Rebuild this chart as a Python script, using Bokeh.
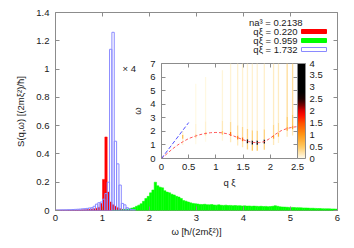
import numpy as np
from bokeh.plotting import figure
from bokeh.models import (LinearAxis, FixedTicker, CustomJSTickFormatter, Label, BoxAnnotation,
                          ColumnDataSource, LinearColorMapper, ColorBar, Range1d)
from bokeh.embed import file_html
from bokeh.resources import INLINE

# ---------------- data ----------------
bin_width = 0.05

red_start = 0.0   # q xi = 0.220
red_values = [0.002, 0.002, 0.002, 0.002, 0.002, 0.002, 0.002, 0.002, 0.003, 0.003,
              0.004, 0.005, 0.006, 0.007, 0.008, 0.010, 0.012, 0.016, 0.022, 0.050,
              0.220, 0.520, 0.130, 0.060, 0.040, 0.030, 0.020, 0.012, 0.008, 0.005,
              0.004, 0.003, 0.002, 0.002]

blue_start = 0.0  # q xi = 1.732 (x 4)
blue_values = [0.004, 0.004, 0.005, 0.005, 0.005, 0.006, 0.006, 0.007, 0.008, 0.009,
               0.010, 0.012, 0.013, 0.015, 0.018, 0.020, 0.030, 0.045, 0.055, 0.060,
               0.080, 0.120, 0.200, 1.140, 1.260, 0.490, 0.330, 0.180, 0.050, 0.040,
               0.020, 0.012, 0.008, 0.005]

green_start = 1.20  # q xi = 0.959
green_values = [0.002, 0.003, 0.003, 0.004, 0.006, 0.008, 0.010, 0.013, 0.017, 0.021,
                0.030, 0.038, 0.048, 0.065, 0.085, 0.100, 0.125, 0.145, 0.200, 0.175,
                0.165, 0.160, 0.140, 0.130, 0.125, 0.115, 0.110, 0.100, 0.095, 0.085,
                0.070, 0.066, 0.060, 0.054, 0.050, 0.048, 0.046, 0.043, 0.042, 0.044,
                0.041, 0.040, 0.042, 0.039, 0.038, 0.040, 0.037, 0.036, 0.038, 0.035,
                0.036, 0.034, 0.035, 0.033, 0.034, 0.032, 0.033, 0.031, 0.032, 0.030,
                0.031, 0.030, 0.029, 0.030, 0.028, 0.029, 0.027, 0.028, 0.030, 0.034,
                0.030, 0.026, 0.025, 0.024, 0.023, 0.022, 0.022, 0.021, 0.020, 0.020,
                0.019, 0.018, 0.018, 0.017, 0.016, 0.016, 0.015, 0.014, 0.014, 0.013,
                0.012, 0.012, 0.012, 0.011, 0.011, 0.010]

omega_ticks = [0, 1, 2, 3, 4, 5, 6]
s_ticks = [0, 0.2, 0.4, 0.6, 0.8, 1, 1.2, 1.4]

# inset: dispersion and phonon line
disp_q = [0, 0.1, 0.2, 0.3, 0.4, 0.5, 0.6, 0.7, 0.8, 0.9, 1.0, 1.1, 1.2, 1.3,
          1.4, 1.5, 1.6, 1.7, 1.8, 1.9, 2.0, 2.1, 2.2, 2.3, 2.4, 2.5]
disp_w = [0, 0.35, 0.7, 1.0, 1.25, 1.47, 1.62, 1.75, 1.84, 1.9, 1.92, 1.9, 1.83, 1.7,
          1.54, 1.38, 1.25, 1.18, 1.17, 1.25, 1.5, 1.8, 2.05, 2.2, 2.3, 2.35]
phonon_q = [0, 0.5]
phonon_w = [0, 2.65]

# inset: S(q, w) streaks at computed q values
streak_q = [0.39, 0.63, 0.81, 1.12, 1.27, 1.40, 1.49, 1.58, 1.67, 1.76, 1.89, 2.06, 2.15, 2.31, 2.41]
streak_peak_w = [1.60, 1.65, 1.84, 1.90, 1.80, 1.55, 1.42, 1.27, 1.18, 1.17, 1.25, 1.60, 1.75, 2.20, 2.30]
streak_peak_val = [0.6, 0.25, 0.3, 0.5, 1.2, 1.1, 1.3, 3.2, 3.8, 3.8, 3.6, 0.9, 0.7, 0.9, 0.9]
streak_low_val = [0.1, 0.04, 0.04, 0.08, 0.2, 0.2, 0.25, 0.4, 0.5, 0.5, 0.4, 0.2, 0.12, 0.2, 0.2]
streak_mid_val = [0.1, 0.1, 0.12, 0.2, 0.3, 0.3, 0.35, 0.4, 0.4, 0.4, 0.4, 0.35, 0.3, 0.5, 0.5]
streak_tail_val = [0.0, 0.04, 0.05, 0.08, 0.1, 0.12, 0.12, 0.12, 0.12, 0.12, 0.13, 0.17, 0.17, 0.3, 0.3]
streak_top_w = [2.0, 5.5, 6.0, 6.5, 7, 7, 7, 7, 7, 7, 7, 7, 7, 7, 7]

cbar_ticks = [0, 0.5, 1, 1.5, 2, 2.5, 3, 3.5, 4]
inset_x_ticks = [0, 0.5, 1, 1.5, 2, 2.5]
inset_y_ticks = [0, 1, 2, 3, 4, 5, 6, 7]

legend_labels = ["qξ = 0.220", "qξ = 0.959", "qξ = 1.732"]

# ---------------- style ----------------
FONT = "Liberation Sans"
FS = "9.5px"
FRAME = "#8c8c8c"
TXT = "#1a1a1a"
RED = "#ff0000"
GREEN = "#00ff00"
BLUE = "#8a8aff"

# gnuplot-like palette: white -> orange -> red -> black
anchors = [(0.0, (255, 253, 240)), (0.125, (255, 200, 95)), (0.25, (255, 150, 20)),
           (0.375, (255, 80, 0)), (0.45, (255, 15, 0)), (0.5, (225, 0, 0)),
           (0.56, (120, 0, 0)), (0.625, (30, 0, 0)), (0.7, (0, 0, 0)), (1.0, (0, 0, 0))]
palette = []
for i in range(256):
    f = i / 255
    for (f0, c0), (f1, c1) in zip(anchors[:-1], anchors[1:]):
        if f0 <= f <= f1:
            t = (f - f0) / (f1 - f0)
            c = [int(round(a + (b - a) * t)) for a, b in zip(c0, c1)]
            palette.append("#%02x%02x%02x" % tuple(c))
            break
mapper = LinearColorMapper(palette=palette, low=0, high=4)

num_fmt = CustomJSTickFormatter(code="return String(tick);")
blank_fmt = CustomJSTickFormatter(code="return '';")


def style_axis(ax, labels=True):
    ax.axis_line_color = None
    ax.major_tick_in = 4
    ax.major_tick_out = 0
    ax.major_tick_line_color = FRAME
    ax.minor_tick_line_color = None
    ax.major_label_text_font = FONT
    ax.major_label_text_font_size = FS
    ax.major_label_text_color = TXT
    ax.axis_label_text_font = FONT
    ax.axis_label_text_font_size = FS
    ax.axis_label_text_font_style = "normal"
    ax.axis_label_text_color = TXT
    if not labels:
        ax.formatter = blank_fmt
        ax.major_label_standoff = 0


def hist_source(start, values):
    left = start + bin_width * np.arange(len(values))
    return ColumnDataSource(dict(left=left, right=left + bin_width,
                                 top=values, bottom=np.zeros(len(values))))


# ---------------- main figure ----------------
p = figure(width=346, height=240, x_range=Range1d(0, 6), y_range=Range1d(0, 1.4),
           output_backend="svg", toolbar_location=None,
           min_border_left=55, min_border_right=9, min_border_top=12, min_border_bottom=30)
p.xgrid.visible = False
p.ygrid.visible = False
p.outline_line_color = FRAME
p.outline_line_width = 1

p.xaxis.ticker = FixedTicker(ticks=omega_ticks)
p.yaxis.ticker = FixedTicker(ticks=s_ticks)
p.xaxis.formatter = num_fmt
p.yaxis.formatter = num_fmt
p.xaxis.axis_label = "ω [ħ/(2mξ²)]"
p.yaxis.axis_label = "S(q,ω) [(2mξ²)/ħ]"
for ax in p.xaxis + p.yaxis:
    style_axis(ax)
p.xaxis.major_label_standoff = 4
p.xaxis.axis_label_standoff = 2
p.yaxis.major_label_standoff = 6
p.yaxis.axis_label_standoff = 7

top_ax = LinearAxis(ticker=FixedTicker(ticks=omega_ticks))
style_axis(top_ax, labels=False)
p.add_layout(top_ax, "above")
right_ax = LinearAxis(ticker=FixedTicker(ticks=s_ticks))
style_axis(right_ax, labels=False)
p.add_layout(right_ax, "right")

p.quad(source=hist_source(red_start, red_values), left="left", right="right", top="top",
       bottom="bottom", fill_color=RED, line_color=RED, line_width=0.5)
p.quad(source=hist_source(green_start, green_values), left="left", right="right", top="top",
       bottom="bottom", fill_color=GREEN, line_color=GREEN, line_width=0.5)
p.quad(source=hist_source(blue_start, blue_values), left="left", right="right", top="top",
       bottom="bottom", fill_color=None, line_color=BLUE, line_width=1)

p.add_layout(Label(x=67, y=142, x_units="screen", y_units="screen", text="× 4",
                   text_font=FONT, text_font_size=FS, text_color=TXT, text_baseline="middle"))

# legend (labels right-aligned to the left of the samples, gnuplot style)
p.add_layout(Label(x=247, y=188, x_units="screen", y_units="screen", text="na³ = 0.2138",
                   text_font=FONT, text_font_size=FS, text_color=TXT,
                   text_align="right", text_baseline="middle"))
row_y = [179, 170, 161]
for lab, yy, col, filled in zip(legend_labels, row_y, [RED, GREEN, BLUE], [True, True, False]):
    p.add_layout(Label(x=242, y=yy, x_units="screen", y_units="screen", text=lab,
                       text_font=FONT, text_font_size=FS, text_color=TXT,
                       text_align="right", text_baseline="middle"))
    p.add_layout(BoxAnnotation(left=246, right=271, bottom=yy - 2, top=yy + 2,
                               left_units="screen", right_units="screen",
                               bottom_units="screen", top_units="screen",
                               fill_color=col if filled else None,
                               fill_alpha=1.0 if filled else 0.0,
                               line_color=col, line_width=1, line_alpha=1.0,
                               editable=False))

# ---------------- inset figure ----------------
inset = figure(frame_width=136, frame_height=95, x_range=Range1d(0, 2.5), y_range=Range1d(0, 7),
               output_backend="svg", toolbar_location=None,
               min_border_left=33, min_border_top=8, min_border_bottom=2, min_border_right=2)
inset.styles = {"position": "absolute", "left": "128px", "top": "55px"}
inset.background_fill_alpha = 0
inset.border_fill_alpha = 0
inset.xgrid.visible = False
inset.ygrid.visible = False
inset.outline_line_color = FRAME
inset.xaxis.ticker = FixedTicker(ticks=inset_x_ticks)
inset.yaxis.ticker = FixedTicker(ticks=inset_y_ticks)
inset.xaxis.formatter = num_fmt
inset.yaxis.formatter = num_fmt
inset.xaxis.axis_label = "q ξ"
inset.yaxis.axis_label = "ω"
for ax in inset.xaxis + inset.yaxis:
    style_axis(ax)
inset.xaxis.major_label_standoff = 5
inset.xaxis.axis_label_standoff = 4
inset.yaxis.major_label_standoff = 6
inset.yaxis.axis_label_standoff = 4
itop = LinearAxis(ticker=FixedTicker(ticks=inset_x_ticks))
style_axis(itop, labels=False)
inset.add_layout(itop, "above")
iright = LinearAxis(ticker=FixedTicker(ticks=inset_y_ticks))
style_axis(iright, labels=False)
inset.add_layout(iright, "right")

# streak segments built from the per-streak values
sl, sr, sb, st, sv = [], [], [], [], []
half_w = 0.012
for q, pk, pv, lv, mv, tv, top in zip(streak_q, streak_peak_w, streak_peak_val, streak_low_val,
                                      streak_mid_val, streak_tail_val, streak_top_w):
    segs = [(pk - 0.6, pk - 0.15, lv), (pk - 0.15, pk + 0.15, pv),
            (pk + 0.15, min(pk + 0.9, top), mv), (min(pk + 0.9, top), top, tv)]
    for b, t, v in segs:
        if t > b:
            sl.append(q - half_w); sr.append(q + half_w)
            sb.append(b); st.append(t); sv.append(v)
streak_src = ColumnDataSource(dict(left=sl, right=sr, bottom=sb, top=st, v=sv))
inset.quad(source=streak_src, left="left", right="right", bottom="bottom", top="top",
           fill_color={"field": "v", "transform": mapper}, line_color=None)

inset.line(disp_q, disp_w, line_color="#ff5a5a", line_width=1, line_dash="3 2")
inset.line(phonon_q, phonon_w, line_color="#5050ff", line_width=1, line_dash="4 2")

cb = ColorBar(color_mapper=mapper, ticker=FixedTicker(ticks=cbar_ticks), formatter=num_fmt,
              width=8, margin=4, padding=0, label_standoff=4,
              major_tick_line_color=None, minor_tick_line_color=None,
              bar_line_color=FRAME, border_line_color=None, background_fill_alpha=0,
              major_label_text_font=FONT, major_label_text_font_size=FS,
              major_label_text_color=TXT)
inset.add_layout(cb, "right")

open("out.html", "w").write(file_html([p, inset], INLINE))
